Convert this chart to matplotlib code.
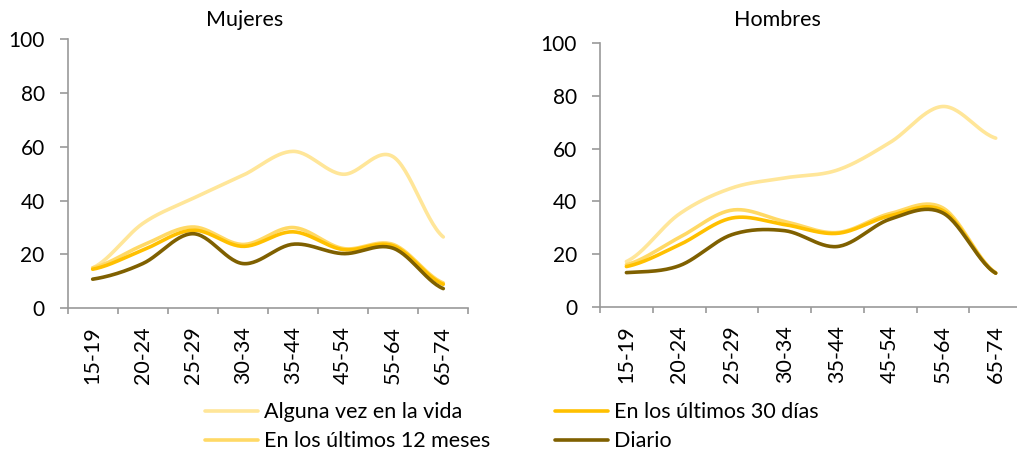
import matplotlib
matplotlib.use("Agg")
import matplotlib.pyplot as plt
import numpy as np

plt.rcParams['font.family'] = ['Lato', 'DejaVu Sans']

age_groups = ["15-19", "20-24", "25-29", "30-34", "35-44", "45-54", "55-64", "65-74"]

series_names = ["Alguna vez en la vida", "En los últimos 12 meses",
                "En los últimos 30 días", "Diario"]
series_colors = ["#FFE699", "#FFD966", "#FFC000", "#7F6000"]

mujeres_alguna = [15.0, 31.5, 40.8, 49.4, 58.3, 49.8, 56.3, 26.5]
mujeres_12m = [15.0, 23.4, 30.2, 23.7, 30.0, 22.2, 23.7, 9.4]
mujeres_30d = [14.5, 21.6, 29.0, 23.0, 28.4, 21.8, 23.2, 8.9]
mujeres_diario = [10.8, 16.6, 27.7, 16.6, 23.8, 20.3, 22.3, 7.3]

hombres_alguna = [17.2, 35.2, 45.1, 48.9, 51.9, 62.4, 76.0, 64.0]
hombres_12m = [16.0, 26.3, 36.7, 32.4, 28.2, 35.4, 37.5, 13.0]
hombres_30d = [15.3, 23.5, 33.7, 31.2, 27.9, 34.6, 36.5, 12.8]
hombres_diario = [13.0, 15.6, 27.4, 28.9, 22.9, 33.3, 35.6, 12.8]


def smooth(x, y, n=30):
    # Catmull-Rom style smoothing, like the "smoothed line" option in spreadsheets
    x = np.asarray(x, float)
    y = np.asarray(y, float)
    px = np.concatenate(([2 * x[0] - x[1]], x, [2 * x[-1] - x[-2]]))
    py = np.concatenate(([y[0]], y, [y[-1]]))
    xs, ys = [], []
    t = np.linspace(0, 1, n)
    for i in range(1, len(px) - 2):
        for p, out in ((px, xs), (py, ys)):
            p0, p1, p2, p3 = p[i - 1], p[i], p[i + 1], p[i + 2]
            c1 = p1 + (p2 - p0) / 6.0
            c2 = p2 - (p3 - p1) / 6.0
            out.extend((1 - t) ** 3 * p1 + 3 * (1 - t) ** 2 * t * c1
                       + 3 * (1 - t) * t ** 2 * c2 + t ** 3 * p2)
    return np.array(xs), np.array(ys)


def draw_panel(ax, data):
    x = np.arange(len(age_groups))
    for name, color, values in zip(series_names, series_colors, data):
        sx, sy = smooth(x, values)
        ax.plot(sx, sy, color=color, lw=2.6, label=name, solid_capstyle='round')
    ax.set_xlim(-0.5, len(age_groups) - 0.5)
    ax.set_ylim(0, 100)
    ax.set_yticks(range(0, 101, 20))
    ax.set_xticks(x)
    ax.set_xticklabels(age_groups, rotation=90)
    ax.set_xticks(np.arange(-0.5, len(age_groups)), minor=True)
    ax.tick_params(axis='x', which='major', length=0, labelsize=15.5, pad=13)
    ax.tick_params(axis='x', which='minor', length=4.5, color='#999999', width=1.2)
    ax.tick_params(axis='y', length=5.5, color='#999999', width=1.2, labelsize=15, pad=11)
    for side in ("top", "right"):
        ax.spines[side].set_visible(False)
    for side in ("left", "bottom"):
        ax.spines[side].set_color('#999999')
        ax.spines[side].set_linewidth(1.2)


fig = plt.figure(figsize=(10.17, 4.5), dpi=100)
ax1 = fig.add_axes([0.0665, 0.315, 0.394, 0.598])
ax2 = fig.add_axes([0.590, 0.318, 0.415, 0.586])

draw_panel(ax1, [mujeres_alguna, mujeres_12m, mujeres_30d, mujeres_diario])
draw_panel(ax2, [hombres_alguna, hombres_12m, hombres_30d, hombres_diario])

fig.text(245 / 1017, 1 - 20 / 450, "Mujeres", ha='center', va='center', fontsize=15.5)
fig.text(777 / 1017, 1 - 20 / 450, "Hombres", ha='center', va='center', fontsize=15.5)

handles, labels = ax1.get_legend_handles_labels()
fig.legend(handles, labels, loc='upper center', bbox_to_anchor=(0.503, 0.106), ncol=2,
           frameon=False, fontsize=15.5, handlelength=2.5, handletextpad=0.25,
           columnspacing=3.0, labelspacing=0.42, borderaxespad=0, borderpad=0)

fig.savefig("out.png", dpi=100)
